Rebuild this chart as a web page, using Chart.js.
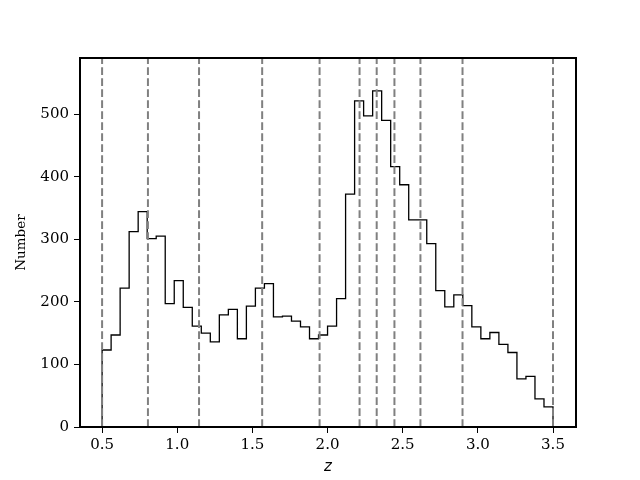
<!DOCTYPE html>
<html>
<head>
<meta charset="utf-8">
<script src="https://cdn.jsdelivr.net/npm/chart.js@4"></script>
<style>
  body { margin: 0; background: #ffffff; }
  canvas { display: block; }
</style>
</head>
<body>
<canvas id="histChart" width="640" height="480"></canvas>
<script>
// bin edges of the redshift histogram
const binEdges = [0.50, 0.56, 0.62, 0.68, 0.74, 0.80, 0.86, 0.92, 0.98, 1.04,
                  1.10, 1.16, 1.22, 1.28, 1.34, 1.40, 1.46, 1.52, 1.58, 1.64,
                  1.70, 1.76, 1.82, 1.88, 1.94, 2.00, 2.06, 2.12, 2.18, 2.24,
                  2.30, 2.36, 2.42, 2.48, 2.54, 2.60, 2.66, 2.72, 2.78, 2.84,
                  2.90, 2.96, 3.02, 3.08, 3.14, 3.20, 3.26, 3.32, 3.38, 3.44, 3.50];
// counts per bin
const binCounts = [123, 147, 222, 312, 344, 301, 305, 197, 234, 191,
                   161, 150, 136, 179, 188, 141, 193, 222, 229, 176,
                   177, 169, 160, 141, 147, 161, 205, 372, 521, 497,
                   537, 490, 416, 387, 331, 331, 293, 218, 192, 211,
                   194, 160, 141, 151, 132, 119, 77, 81, 45, 32];
// dashed vertical markers
const splitLines = [0.5, 0.805, 1.145, 1.565, 1.947, 2.213, 2.327, 2.445, 2.618, 2.898, 3.5];

const xTicks = [0.5, 1.0, 1.5, 2.0, 2.5, 3.0, 3.5];
const yTicks = [0, 100, 200, 300, 400, 500];
const xMin = 0.353, xMax = 3.653;
const yMin = 0, yMax = 589.5;

// step outline: up from zero at first edge, down to zero at last edge
function buildStepPoints() {
    const pts = [{ x: binEdges[0], y: 0 }, { x: binEdges[0], y: binCounts[0] }];
    for (let i = 0; i < binCounts.length; i++) {
        pts.push({ x: binEdges[i + 1], y: binCounts[i] });
    }
    pts.push({ x: binEdges[binEdges.length - 1], y: 0 });
    return pts;
}

const lineDatasets = splitLines.map(v => ({
    data: [{ x: v, y: yMin }, { x: v, y: yMax }],
    borderColor: '#808080',
    borderWidth: 2,
    borderDash: [7.7, 3.3],
    pointRadius: 0,
    fill: false,
    order: 0
}));

// 'after' in Chart.js = vertical at the previous point, then flat to this point
const histDataset = {
    data: buildStepPoints(),
    stepped: 'after',
    borderColor: '#000000',
    borderWidth: 1.3,
    pointRadius: 0,
    fill: false,
    order: 1
};

// black frame around the plot area
const framePlugin = {
    id: 'frame',
    afterDraw(chart) {
        const { ctx, chartArea: a } = chart;
        ctx.save();
        ctx.strokeStyle = '#000000';
        ctx.lineWidth = 2;
        ctx.strokeRect(a.left, a.top, a.right - a.left, a.bottom - a.top);
        ctx.restore();
    }
};

const tickFont = { family: 'DejaVu Serif', size: 15 };

new Chart(document.getElementById('histChart').getContext('2d'), {
    type: 'line',
    data: { datasets: lineDatasets.concat([histDataset]) },
    options: {
        responsive: false,
        animation: false,
        devicePixelRatio: 1,
        layout: { padding: { top: 58, right: 64, left: 0, bottom: 0 } },
        plugins: {
            legend: { display: false },
            tooltip: { enabled: false }
        },
        scales: {
            x: {
                type: 'linear',
                min: xMin,
                max: xMax,
                afterBuildTicks: axis => { axis.ticks = xTicks.map(v => ({ value: v })); },
                afterFit: axis => { axis.height = 53; },
                ticks: {
                    color: '#000000',
                    font: tickFont,
                    padding: 3,
                    maxRotation: 0,
                    callback: v => v.toFixed(1)
                },
                grid: { drawOnChartArea: false, drawTicks: true, tickLength: 6, tickColor: '#000000', tickWidth: 1 },
                border: { display: false },
                title: {
                    display: true,
                    text: 'z',
                    color: '#000000',
                    font: { family: 'DejaVu Sans', size: 15, style: 'italic' },
                    padding: { top: 0, bottom: 4 }
                }
            },
            y: {
                type: 'linear',
                min: yMin,
                max: yMax,
                afterBuildTicks: axis => { axis.ticks = yTicks.map(v => ({ value: v })); },
                afterFit: axis => { axis.width = 80; },
                ticks: {
                    color: '#000000',
                    font: tickFont,
                    padding: 5
                },
                grid: { drawOnChartArea: false, drawTicks: true, tickLength: 6, tickColor: '#000000', tickWidth: 1 },
                border: { display: false },
                title: {
                    display: true,
                    text: 'Number',
                    color: '#000000',
                    font: { family: 'DejaVu Serif', size: 13.5 },
                    padding: { top: 13, bottom: 0 }
                }
            }
        }
    },
    plugins: [framePlugin]
});
</script>
</body>
</html>
